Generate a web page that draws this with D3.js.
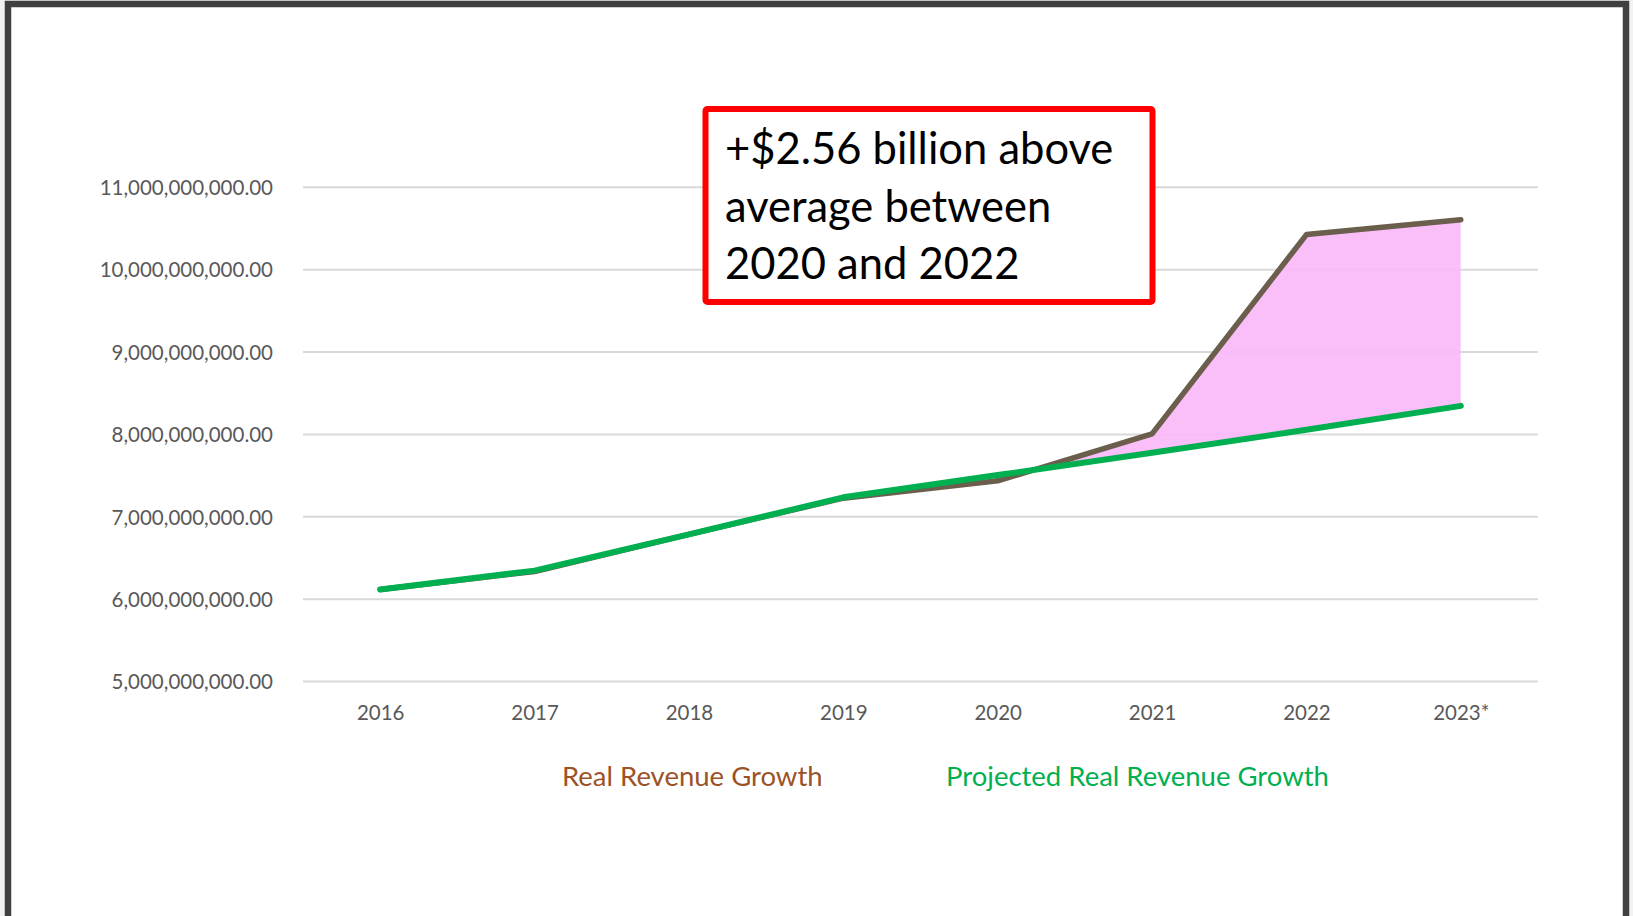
<!DOCTYPE html>
<html>
<head>
<meta charset="utf-8">
<script src="https://cdn.jsdelivr.net/npm/d3@7"></script>
<style>
  html, body { margin: 0; padding: 0; background: #f2f2f2; }
  svg { display: block; }
  svg text { font-family: "Lato", "Open Sans", sans-serif; }
</style>
</head>
<body>
<svg id="chart" width="1633" height="916"></svg>
<script>
// chart values
var years = ["2016", "2017", "2018", "2019", "2020", "2021", "2022", "2023*"];
var realRevenue = [6.11e9, 6.33e9, 6.78e9, 7.22e9, 7.43e9, 8.00e9, 10.42e9, 10.60e9];
var projectedRevenue = [6.11e9, 6.34e9, 6.78e9, 7.23e9, 7.50e9, 7.77e9, 8.05e9, 8.34e9];
var yTicks = [5e9, 6e9, 7e9, 8e9, 9e9, 10e9, 11e9];
var seriesNames = ["Real Revenue Growth", "Projected Real Revenue Growth"];
var noteLines = ["+$2.56 billion above", "average between", "2020 and 2022"];
var shadeFrom = "2020";

var REAL_COLOR = "#6b5e4c";
var PROJ_COLOR = "#00b050";

var svg = d3.select("#chart");

// slide frame
svg.append("rect")
  .attr("x", 8).attr("y", 4)
  .attr("width", 1618).attr("height", 916)
  .attr("fill", "#fff")
  .attr("stroke", "#404040")
  .attr("stroke-width", 6.5);

var plotLeft = 303, plotRight = 1538, plotTop = 186.8, plotBottom = 681;

var x = d3.scalePoint()
  .domain(years)
  .range([plotLeft, plotRight])
  .padding(0.5);

var y = d3.scaleLinear()
  .domain([5e9, 11e9])
  .range([plotBottom, plotTop]);

var fmt = d3.format(",.2f");

// ##### gridlines + y labels #####
var yAxis = d3.axisLeft(y)
  .tickValues(yTicks)
  .tickFormat(fmt)
  .tickSize(-(plotRight - plotLeft))
  .tickPadding(30);

var gy = svg.append("g")
  .attr("transform", "translate(" + plotLeft + ",0)")
  .call(yAxis)
  .attr("font-family", null)
  .attr("font-size", null);
gy.select(".domain").remove();
gy.selectAll("line").attr("stroke", "#d9d9d9").attr("stroke-width", 2);
gy.selectAll("text")
  .attr("fill", "#595959")
  .style("font-size", "20.5px")
  .attr("dy", "0.38em");

// ##### x labels #####
var xAxis = d3.axisBottom(x).tickSize(0).tickPadding(24);
var gx = svg.append("g")
  .attr("transform", "translate(0," + plotBottom + ")")
  .call(xAxis)
  .attr("font-family", null)
  .attr("font-size", null);
gx.select(".domain").remove();
gx.selectAll("text")
  .attr("fill", "#595959")
  .style("font-size", "20.5px");

// ##### shaded gap between real and projected #####
var rows = years.map(function (yr, i) {
  return { year: yr, real: realRevenue[i], proj: projectedRevenue[i] };
});
var startIdx = years.indexOf(shadeFrom);
var shadeRows = rows.slice(startIdx);

// only keep the part that sits above the projected line
svg.append("clipPath")
  .attr("id", "aboveProj")
  .append("path")
  .attr("d", d3.area()
    .x(function (d) { return x(d.year); })
    .y0(0)
    .y1(function (d) { return y(d.proj); })(rows));

svg.append("path")
  .attr("clip-path", "url(#aboveProj)")
  .attr("fill", "#fab8f8")
  .attr("fill-opacity", 0.92)
  .attr("d", d3.area()
    .x(function (d) { return x(d.year); })
    .y0(function (d) { return y(d.proj); })
    .y1(function (d) { return y(d.real); })(shadeRows));

// ##### lines #####
var realLine = d3.line()
  .x(function (d) { return x(d.year); })
  .y(function (d) { return y(d.real); });

var projLine = d3.line()
  .x(function (d) { return x(d.year); })
  .y(function (d) { return y(d.proj); });

svg.append("path")
  .attr("d", realLine(rows))
  .attr("fill", "none")
  .attr("stroke", REAL_COLOR)
  .attr("stroke-width", 5.5)
  .attr("stroke-linecap", "round")
  .attr("stroke-linejoin", "round");

svg.append("path")
  .attr("d", projLine(rows))
  .attr("fill", "none")
  .attr("stroke", PROJ_COLOR)
  .attr("stroke-width", 6)
  .attr("stroke-linecap", "round")
  .attr("stroke-linejoin", "round");

// ##### legend #####
svg.append("text")
  .attr("x", 562).attr("y", 786)
  .attr("fill", "#9c5227")
  .style("font-size", "27.5px")
  .text(seriesNames[0]);

svg.append("text")
  .attr("x", 946).attr("y", 786)
  .attr("fill", PROJ_COLOR)
  .style("font-size", "27.5px")
  .text(seriesNames[1]);

// ##### callout box #####
var note = svg.append("g");
note.append("rect")
  .attr("x", 705.5).attr("y", 109)
  .attr("width", 447).attr("height", 193)
  .attr("rx", 2)
  .attr("fill", "#fff")
  .attr("stroke", "#ff0000")
  .attr("stroke-width", 6);

note.selectAll("text")
  .data(noteLines)
  .enter()
  .append("text")
  .attr("x", 725)
  .attr("y", function (d, i) { return 164 + i * 57.5; })
  .attr("fill", "#000")
  .style("font-size", "43.5px")
  .text(function (d) { return d; });
</script>
</body>
</html>
